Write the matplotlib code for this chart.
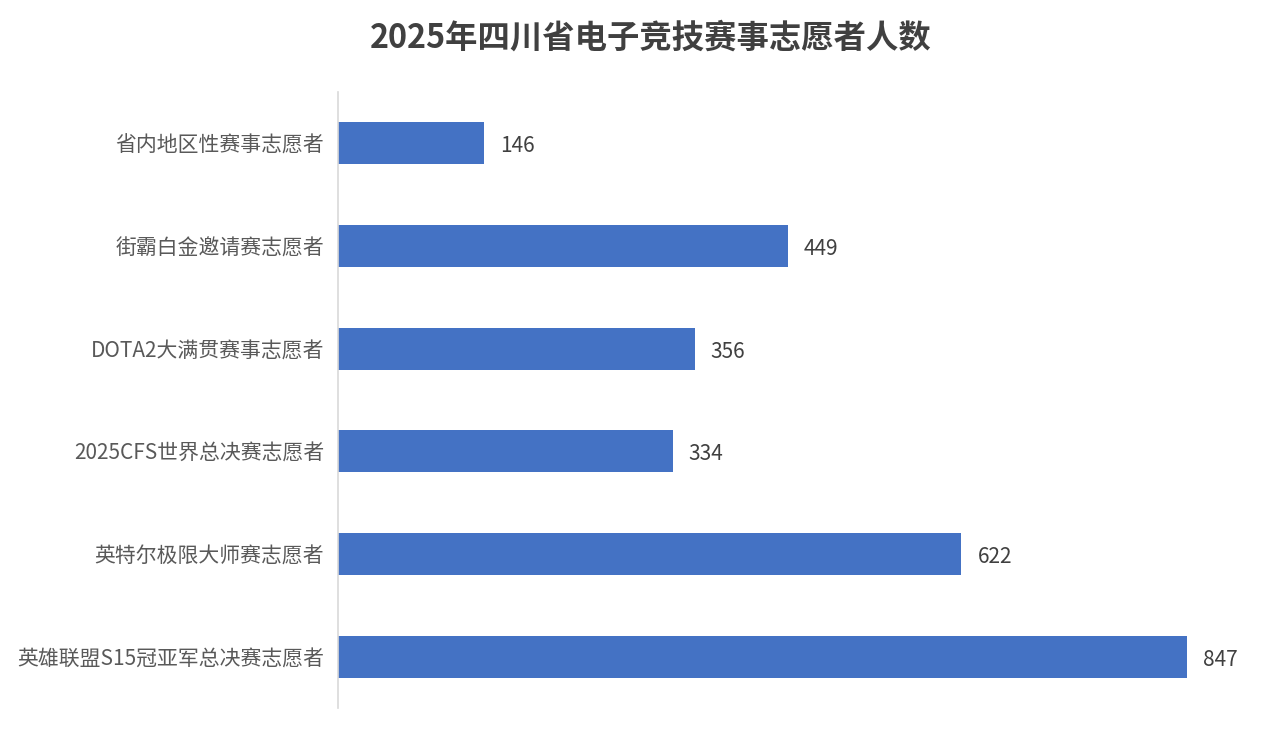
import matplotlib
matplotlib.use("Agg")
import matplotlib.pyplot as plt

plt.rcParams['font.family'] = ['Noto Sans CJK SC', 'DejaVu Sans']

categories = ["省内地区性赛事志愿者", "街霸白金邀请赛志愿者", "DOTA2大满贯赛事志愿者",
              "2025CFS世界总决赛志愿者", "英特尔极限大师赛志愿者", "英雄联盟S15冠亚军总决赛志愿者"]
values = [146, 449, 356, 334, 622, 847]
title = "2025年四川省电子竞技赛事志愿者人数"

fig = plt.figure(figsize=(12.67, 7.34), dpi=100)
ax = fig.add_axes([338/1267, 26/734, 900/1267, 616/734])

ypos = list(range(len(categories)))
ax.barh(ypos, values, height=0.41, color="#4472C4")
ax.set_ylim(len(categories) - 0.5, -0.5)
ax.set_xlim(0, 898)
ax.set_yticks(ypos)
ax.set_yticklabels(categories, fontsize=15, color="#595959")
ax.tick_params(axis='y', length=0, pad=10)
ax.set_xticks([])
for s in ['top', 'right', 'bottom']:
    ax.spines[s].set_visible(False)
ax.spines['left'].set_color("#D9D9D9")
ax.spines['left'].set_linewidth(1.2)

for y, v in zip(ypos, values):
    ax.annotate(str(v), xy=(v, y), xytext=(16, -3), textcoords='offset pixels',
                va='center', ha='left', fontsize=15, color="#404040")

fig.text(0.5 + 17/1267, 1 - 38/734, title, ha='center', va='center', fontsize=23.3,
         fontweight='bold', color="#404040")

fig.savefig("out.png", dpi=100)
